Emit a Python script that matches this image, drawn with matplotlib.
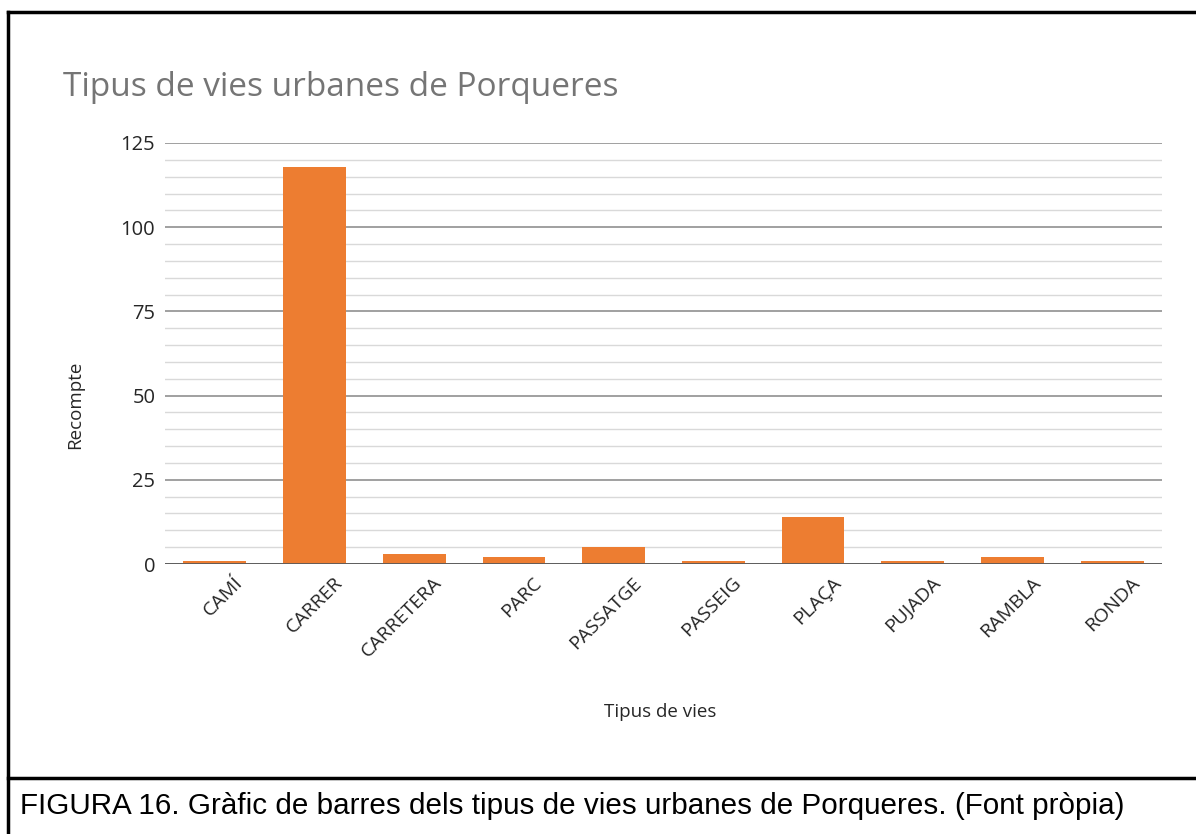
"""Bar chart of urban street types in Porqueres."""

import matplotlib.pyplot as plt
import matplotlib.transforms as mtransforms
from matplotlib.lines import Line2D
from matplotlib.ticker import MultipleLocator

CATEGORIES = ['CAMÍ', 'CARRER', 'CARRETERA', 'PARC', 'PASSATGE', 'PASSEIG',
              'PLAÇA', 'PUJADA', 'RAMBLA', 'RONDA']
COUNTS = [1, 118, 3, 2, 5, 1, 14, 1, 2, 1]
Y_TICKS = [0, 25, 50, 75, 100, 125]

TITLE = 'Tipus de vies urbanes de Porqueres'
CAPTION = ('FIGURA 16. Gràfic de barres dels tipus de vies urbanes de '
           'Porqueres. (Font pròpia)')

BAR_COLOR = '#ed7d31'
FONT = ['Open Sans', 'DejaVu Sans']

fig = plt.figure(figsize=(11.96, 8.34), dpi=100)
W, H = 1196, 834

ax = fig.add_axes([165 / W, 1 - 564 / H, (1162 - 165) / W, (564 - 143) / H])
positions = range(len(CATEGORIES))
ax.bar(positions, COUNTS, width=0.63, color=BAR_COLOR, zorder=3)

ax.set_xlim(-0.5, len(CATEGORIES) - 0.5)
ax.set_ylim(0, 125)
ax.set_yticks(Y_TICKS)
ax.yaxis.set_minor_locator(MultipleLocator(5))
ax.grid(axis='y', which='major', color='#a0a0a0', linewidth=1.4, zorder=0)
ax.grid(axis='y', which='minor', color='#d9d9d9', linewidth=1.0, zorder=0)
ax.axhline(0, color='#595959', linewidth=1.3, zorder=4)
for spine in ax.spines.values():
    spine.set_visible(False)
ax.tick_params(axis='both', which='both', length=0)
ax.tick_params(axis='y', pad=7)
ax.set_yticklabels([str(v) for v in Y_TICKS], family=FONT, fontsize=14.5,
                   color='#262626')

ax.set_xticks(list(positions))
labels = ax.set_xticklabels(CATEGORIES, family=FONT, fontsize=14,
                            color='#262626', rotation=45, ha='right',
                            va='center', rotation_mode='anchor')
# Excel-style rotated labels: right end sits a little right of the bar centre
offset = mtransforms.ScaledTranslation(25 / 100, -11 / 100, fig.dpi_scale_trans)
for label in labels:
    label.set_transform(label.get_transform() + offset)

fig.text(75 / W, 1 - 405 / H, 'Recompte', family=FONT, fontsize=13.5,
         rotation=90, ha='center', va='center', color='#262626')
fig.text(660 / W, 1 - 712 / H, 'Tipus de vies', family=FONT, fontsize=13.5,
         ha='center', va='center', color='#262626')
fig.text(63 / W, 1 - 88 / H, TITLE, family=FONT, fontsize=24,
         ha='left', va='center', color='#757575')
fig.text(20 / W, 1 - 806 / H, CAPTION, family=['Liberation Sans'],
         fontsize=21.3, ha='left', va='center', color='black')

# Frame lines around the chart and the caption row
frame = dict(color='black', linewidth=2.5, transform=fig.transFigure)
fig.add_artist(Line2D([8 / W, 8 / W], [0, 1 - 12 / H], **frame))
fig.add_artist(Line2D([8 / W, 1], [1 - 12 / H, 1 - 12 / H], **frame))
fig.add_artist(Line2D([8 / W, 1], [1 - 778 / H, 1 - 778 / H], **frame))

fig.savefig('out.png', dpi=100)
